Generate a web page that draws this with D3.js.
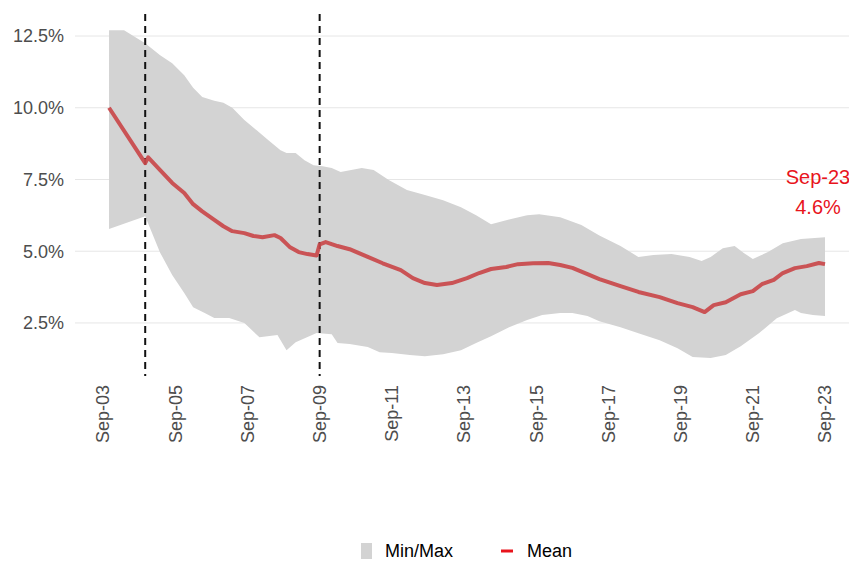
<!DOCTYPE html>
<html lang='en'>
  <head>
    <meta charset='utf-8'>
    <style>
      body { margin: 0; background: #fff; }
      svg { display: block; font-family: 'Liberation Sans', Arial, sans-serif; }
    </style>
  </head>
  <body>
    <div id='chart'></div>

    <script src='https://cdn.jsdelivr.net/npm/d3@7'></script>
    <script>
      // values in percent
      var meanSeries = [
        ['2003-11', 10.0], ['2004-11', 8.07], ['2004-12', 8.27], ['2005-04', 7.83],
        ['2005-08', 7.38], ['2005-12', 7.03], ['2006-03', 6.64], ['2006-06', 6.39],
        ['2006-10', 6.09], ['2007-01', 5.87], ['2007-04', 5.70], ['2007-08', 5.63],
        ['2007-11', 5.53], ['2008-02', 5.49], ['2008-06', 5.56], ['2008-08', 5.46],
        ['2008-11', 5.15], ['2009-02', 4.97], ['2009-05', 4.90], ['2009-08', 4.85],
        ['2009-09', 5.24], ['2009-11', 5.32], ['2010-03', 5.18], ['2010-07', 5.07],
        ['2011-01', 4.80], ['2011-06', 4.58], ['2011-12', 4.34], ['2012-04', 4.06],
        ['2012-08', 3.89], ['2012-12', 3.82], ['2013-05', 3.89], ['2013-10', 4.06],
        ['2014-02', 4.24], ['2014-06', 4.38], ['2014-11', 4.45], ['2015-03', 4.55],
        ['2015-08', 4.58], ['2016-01', 4.59], ['2016-05', 4.52], ['2016-09', 4.42],
        ['2017-02', 4.20], ['2017-06', 4.03], ['2018-01', 3.78], ['2018-07', 3.58],
        ['2019-02', 3.40], ['2019-08', 3.19], ['2020-01', 3.05], ['2020-05', 2.88],
        ['2020-08', 3.12], ['2020-12', 3.22], ['2021-05', 3.50], ['2021-09', 3.61],
        ['2021-12', 3.85], ['2022-04', 4.00], ['2022-07', 4.24], ['2022-11', 4.41],
        ['2023-03', 4.48], ['2023-07', 4.59], ['2023-09', 4.55]
      ];

      var maxSeries = [
        ['2003-11', 12.7], ['2004-04', 12.7], ['2004-11', 12.25], ['2005-04', 11.83],
        ['2005-08', 11.55], ['2005-12', 11.13], ['2006-03', 10.7], ['2006-06', 10.37],
        ['2006-10', 10.24], ['2007-01', 10.17], ['2007-04', 10.0], ['2007-08', 9.57],
        ['2007-12', 9.22], ['2008-04', 8.87], ['2008-08', 8.52], ['2008-10', 8.42],
        ['2009-01', 8.42], ['2009-04', 8.17], ['2009-07', 8.0], ['2009-10', 7.96],
        ['2010-01', 7.9], ['2010-04', 7.76], ['2010-11', 7.9], ['2011-03', 7.83],
        ['2011-08', 7.48], ['2012-02', 7.13], ['2012-08', 6.96], ['2013-02', 6.78],
        ['2013-08', 6.53], ['2014-01', 6.25], ['2014-06', 5.94], ['2014-11', 6.08],
        ['2015-06', 6.25], ['2015-10', 6.29], ['2016-05', 6.18], ['2016-12', 5.91],
        ['2017-06', 5.55], ['2018-01', 5.18], ['2018-07', 4.80], ['2018-12', 4.87],
        ['2019-06', 4.9], ['2019-12', 4.8], ['2020-04', 4.66], ['2020-07', 4.8],
        ['2020-11', 5.1], ['2021-03', 5.18], ['2021-06', 4.94], ['2021-09', 4.73],
        ['2022-02', 4.97], ['2022-07', 5.28], ['2023-01', 5.43], ['2023-09', 5.49]
      ];

      var minSeries = [
        ['2003-11', 5.77], ['2004-11', 6.22], ['2005-04', 4.95], ['2005-08', 4.17],
        ['2005-12', 3.54], ['2006-03', 3.05], ['2006-07', 2.84], ['2006-10', 2.67],
        ['2007-03', 2.67], ['2007-08', 2.5], ['2008-01', 2.0], ['2008-07', 2.08],
        ['2008-10', 1.55], ['2009-01', 1.83], ['2009-08', 2.15], ['2010-01', 2.11],
        ['2010-03', 1.8], ['2010-07', 1.77], ['2011-01', 1.66], ['2011-05', 1.48],
        ['2011-09', 1.45], ['2012-03', 1.38], ['2012-08', 1.34], ['2013-02', 1.41],
        ['2013-08', 1.55], ['2014-01', 1.8], ['2014-06', 2.04], ['2014-12', 2.35],
        ['2015-06', 2.6], ['2015-11', 2.78], ['2016-05', 2.85], ['2016-09', 2.85],
        ['2017-02', 2.74], ['2017-06', 2.56], ['2018-01', 2.35], ['2018-07', 2.14],
        ['2019-02', 1.9], ['2019-08', 1.62], ['2020-01', 1.31], ['2020-07', 1.28],
        ['2020-12', 1.38], ['2021-05', 1.69], ['2021-11', 2.14], ['2022-05', 2.66],
        ['2022-11', 2.95], ['2023-01', 2.85], ['2023-05', 2.78], ['2023-09', 2.74]
      ];

      var xTickLabels = ['2003-09', '2005-09', '2007-09', '2009-09', '2011-09', '2013-09',
                         '2015-09', '2017-09', '2019-09', '2021-09', '2023-09'];
      var yTicks = [2.5, 5.0, 7.5, 10.0, 12.5];
      var breakDates = ['2004-11', '2009-09'];
      var lastLabel = ['Sep-23', '4.6%'];

      var width = 849, height = 561;
      var parse = d3.timeParse('%Y-%m');

      var x = d3.scaleTime()
          .domain([parse('2003-09'), parse('2023-09')])
          .range([103, 825]);
      var y = d3.scaleLinear()
          .domain([0, 12.5])
          .range([394.7, 36]);

      var svg = d3.select('#chart').append('svg')
          .attr('width', width)
          .attr('height', height);

      // horizontal grid
      svg.append('g').selectAll('line')
          .data(yTicks)
        .enter().append('line')
          .attr('x1', 75).attr('x2', width)
          .attr('y1', function (d) { return y(d); })
          .attr('y2', function (d) { return y(d); })
          .attr('stroke', '#e6e6e6')
          .attr('stroke-width', 1);

      // y labels
      svg.append('g').selectAll('text')
          .data(yTicks)
        .enter().append('text')
          .attr('x', 64)
          .attr('y', function (d) { return y(d); })
          .attr('dy', '0.35em')
          .attr('text-anchor', 'end')
          .attr('font-size', 18)
          .attr('fill', '#4d4d4d')
          .text(function (d) { return d.toFixed(1) + '%'; });

      // min/max band: upper edge forward, lower edge back
      var bandPts = maxSeries.map(function (d) { return [x(parse(d[0])), y(d[1])]; })
          .concat(minSeries.slice().reverse().map(function (d) { return [x(parse(d[0])), y(d[1])]; }));
      svg.append('path')
          .attr('d', d3.line()(bandPts) + 'Z')
          .attr('fill', '#d3d3d3');

      // dashed break lines
      svg.append('g').selectAll('line')
          .data(breakDates)
        .enter().append('line')
          .attr('x1', function (d) { return x(parse(d)); })
          .attr('x2', function (d) { return x(parse(d)); })
          .attr('y1', 14).attr('y2', 376)
          .attr('stroke', '#111')
          .attr('stroke-width', 2)
          .attr('stroke-dasharray', '7,5');

      // mean line
      var line = d3.line()
          .x(function (d) { return x(parse(d[0])); })
          .y(function (d) { return y(d[1]); });
      svg.append('path')
          .datum(meanSeries)
          .attr('d', line)
          .attr('fill', 'none')
          .attr('stroke', '#c9484a')
          .attr('stroke-opacity', 0.92)
          .attr('stroke-width', 4)
          .attr('stroke-linejoin', 'round');

      // x labels, rotated
      var fmt = d3.timeFormat('%b-%y');
      svg.append('g').selectAll('text')
          .data(xTickLabels)
        .enter().append('text')
          .attr('transform', function (d) { return 'translate(' + x(parse(d)) + ',385) rotate(-90)'; })
          .attr('dy', '0.35em')
          .attr('text-anchor', 'end')
          .attr('font-size', 18)
          .attr('fill', '#4d4d4d')
          .text(function (d) { return fmt(parse(d)); });

      // last value annotation
      svg.append('g').selectAll('text')
          .data(lastLabel)
        .enter().append('text')
          .attr('x', 818)
          .attr('y', function (d, i) { return 184 + i * 30; })
          .attr('text-anchor', 'middle')
          .attr('font-size', 20)
          .attr('fill', '#e8141c')
          .text(function (d) { return d; });

      // legend
      var lg = svg.append('g');
      lg.append('rect')
          .attr('x', 361).attr('y', 543)
          .attr('width', 11).attr('height', 16)
          .attr('fill', '#d3d3d3');
      lg.append('text')
          .attr('x', 385).attr('y', 557)
          .attr('font-size', 18)
          .attr('fill', '#000')
          .text('Min/Max');
      lg.append('line')
          .attr('x1', 501).attr('x2', 513)
          .attr('y1', 551).attr('y2', 551)
          .attr('stroke', '#e8141c')
          .attr('stroke-width', 3);
      lg.append('text')
          .attr('x', 527).attr('y', 557)
          .attr('font-size', 18)
          .attr('fill', '#000')
          .text('Mean');
    </script>
  </body>
</html>
